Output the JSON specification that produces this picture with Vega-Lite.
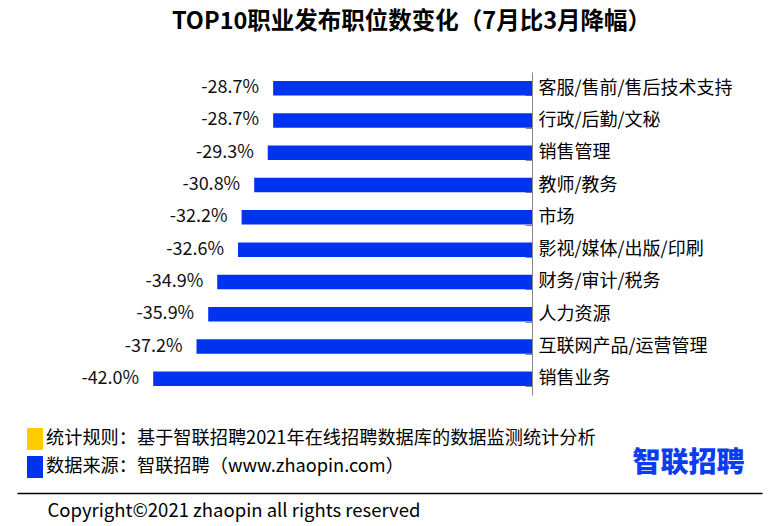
{
  "$schema": "https://vega.github.io/schema/vega-lite/v6.json",
  "width": 745,
  "height": 323,
  "autosize": "none",
  "padding": {"left": 17, "top": 72, "right": 8, "bottom": 131},
  "background": "white",
  "config": {
    "font": "Noto Sans CJK SC",
    "view": {"stroke": null},
    "locale": {"number": {"decimal": ".", "thousands": ",", "grouping": [3], "currency": ["", ""], "minus": "-"}}
  },
  "title": {
    "text": "TOP10职业发布职位数变化（7月比3月降幅）",
    "fontSize": 23.5,
    "fontWeight": "bold",
    "color": "#000000",
    "anchor": "middle",
    "frame": "group",
    "dx": 22,
    "offset": 30
  },
  "data": {
    "values": [
      {"job": "客服/售前/售后技术支持", "change": -0.287},
      {"job": "行政/后勤/文秘", "change": -0.287},
      {"job": "销售管理", "change": -0.293},
      {"job": "教师/教务", "change": -0.308},
      {"job": "市场", "change": -0.322},
      {"job": "影视/媒体/出版/印刷", "change": -0.326},
      {"job": "财务/审计/税务", "change": -0.349},
      {"job": "人力资源", "change": -0.359},
      {"job": "互联网产品/运营管理", "change": -0.372},
      {"job": "销售业务", "change": -0.42}
    ]
  },
  "encoding": {
    "y": {
      "field": "job",
      "type": "nominal",
      "sort": null,
      "scale": {"paddingInner": 0.55, "paddingOuter": 0.275},
      "axis": {
        "orient": "right",
        "offset": -230,
        "domainColor": "#888888",
        "tickColor": "#888888",
        "tickSize": -7,
        "tickBand": "extent",
        "labelPadding": 13,
        "labelFontSize": 18,
        "labelColor": "#000000",
        "labelLimit": 400,
        "title": "智联招聘",
        "titleAngle": 0,
        "titleX": 156,
        "titleY": 391,
        "titleAlign": "center",
        "titleBaseline": "middle",
        "titleFontSize": 28,
        "titleFontWeight": 900,
        "titleColor": "#0b3df0"
      }
    },
    "x": {
      "field": "change",
      "type": "quantitative",
      "scale": {"domain": [-0.571, 0.255], "nice": false, "zero": false},
      "axis": {
        "orient": "bottom",
        "offset": 98,
        "domainColor": "#000000",
        "domainWidth": 1.5,
        "ticks": false,
        "labels": false,
        "grid": false,
        "title": "Copyright©2021 zhaopin all rights reserved",
        "titleX": 30,
        "titleY": 17,
        "titleAlign": "left",
        "titleBaseline": "middle",
        "titleFontSize": 18.5,
        "titleFontWeight": "normal",
        "titleColor": "#000000"
      }
    }
  },
  "layer": [
    {
      "mark": {"type": "bar", "orient": "horizontal"},
      "encoding": {
        "x2": {"datum": 0},
        "color": {
          "datum": "数据来源：智联招聘（www.zhaopin.com）",
          "scale": {
            "domain": ["统计规则：基于智联招聘2021年在线招聘数据库的数据监测统计分析", "数据来源：智联招聘（www.zhaopin.com）"],
            "range": ["#ffcc00", "#0033ee"]
          },
          "legend": {
            "title": null,
            "orient": "none",
            "legendX": 7,
            "legendY": 356,
            "direction": "vertical",
            "padding": 0,
            "symbolType": "M-0.727,-1H0.727V1H-0.727Z",
            "symbolSize": 484,
            "symbolStrokeWidth": 0,
            "symbolOpacity": 1,
            "labelFontSize": 18.2,
            "labelColor": "#000000",
            "labelOffset": 0,
            "labelLimit": 1000,
            "rowPadding": 6
          }
        }
      }
    },
    {
      "mark": {"type": "text", "align": "right", "baseline": "middle", "dx": -14, "fontSize": 18, "color": "#111111"},
      "encoding": {
        "text": {"field": "change", "type": "quantitative", "format": ".1%"}
      }
    }
  ]
}
